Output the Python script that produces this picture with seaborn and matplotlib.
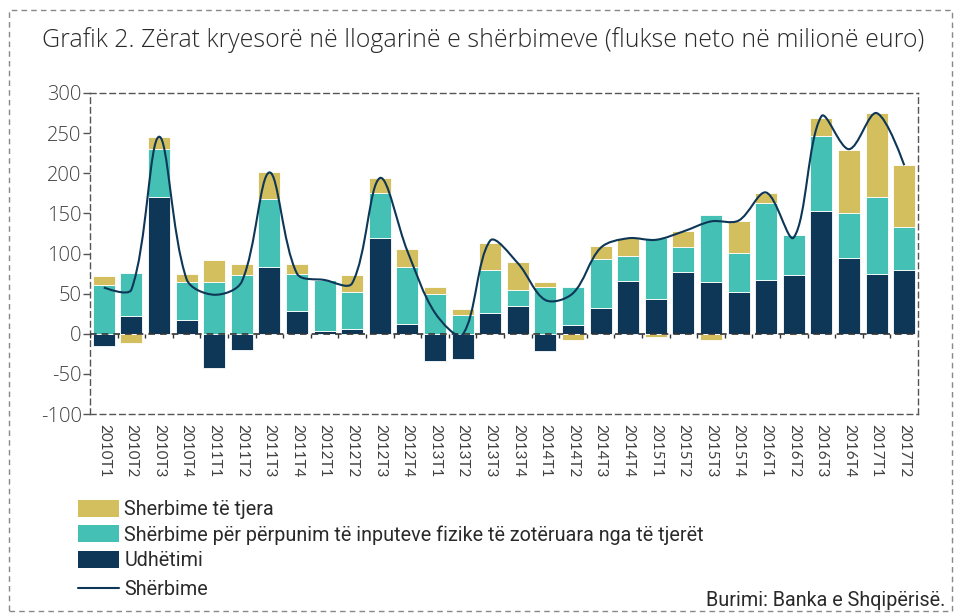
import numpy as np
import pandas as pd
import matplotlib
matplotlib.use("Agg")
import matplotlib.pyplot as plt
import seaborn as sns
from matplotlib.path import Path
from matplotlib.patches import PathPatch, Patch, Rectangle
from matplotlib.lines import Line2D

# ---------------- data ----------------
quarters = ["2010T1", "2010T2", "2010T3", "2010T4", "2011T1", "2011T2", "2011T3", "2011T4",
            "2012T1", "2012T2", "2012T3", "2012T4", "2013T1", "2013T2", "2013T3", "2013T4",
            "2014T1", "2014T2", "2014T3", "2014T4", "2015T1", "2015T2", "2015T3", "2015T4",
            "2016T1", "2016T2", "2016T3", "2016T4", "2017T1", "2017T2"]
udhetimi = [-15, 21.6, 170.7, 17, -43, -20, 82.7, 27.8, 3.7, 6, 119.6, 11.6, -34.5, -31.6, 25.7,
            34, -21.6, 10.4, 31.6, 65.6, 43.6, 76.4, 64, 51.5, 66.5, 72.7, 152.9, 95, 74.8, 79.8]
perpunim = [61, 54.4, 59, 48, 65, 73.5, 85.1, 46.6, 63.3, 45.5, 55.3, 71.4, 50, 22.9, 54,
            21, 58.6, 47.6, 61.9, 31.4, 75.2, 31.2, 84, 49, 96.5, 50.7, 93, 55, 95.5, 52.7]
te_tjera = [11, -11, 15.8, 9, 27, 13.5, 33.2, 12.6, 0.5, 21.5, 19.1, 23, 8.6, 8.1, 32.9,
            34, 6.2, -7.5, 16.2, 21.8, -4, 19.9, -8, 40.3, 12.7, -2, 22.8, 79.3, 105.1, 77.5]
sherbime = [57.7, 55, 245.5, 68, 48.6, 65, 201, 75, 67, 63, 194, 103, 26, -1, 116,
            88, 42, 50.5, 107, 119, 117, 127.5, 140, 141, 176, 120, 271, 230, 275, 210]

labels = ["Sherbime të tjera",
          "Shërbime për përpunim të inputeve fizike të zotëruara nga të tjerët",
          "Udhëtimi",
          "Shërbime"]
title = "Grafik 2. Zërat kryesorë në llogarinë e shërbimeve (flukse neto në milionë euro)"
source = "Burimi: Banka e Shqipërisë."

C_NAVY = "#0d3657"
C_TEAL = "#45c0b5"
C_YELLOW = "#d4bf5e"

TITLE_FONT = ["Open Sans", "DejaVu Sans"]
NARROW_FONT = ["Roboto", "DejaVu Sans"]

# ---------------- style ----------------
sns.set_theme(style="white")
plt.rcParams["font.family"] = ["Lato", "DejaVu Sans"]
plt.rcParams["axes.unicode_minus"] = False

W, H = 957, 615
fig = plt.figure(figsize=(W / 100, H / 100), dpi=100)
ax = fig.add_axes([90 / W, 1 - 414 / H, (918 - 90) / W, (414 - 93) / H])

df = pd.DataFrame({"q": quarters, "udh": udhetimi, "per": perpunim, "tj": te_tjera})
n = len(df)
pos_base = np.zeros(n)
neg_base = np.zeros(n)
for col, color in [("udh", C_NAVY), ("per", C_TEAL), ("tj", C_YELLOW)]:
    v = df[col].to_numpy(float)
    bottom = np.where(v >= 0, pos_base, neg_base)
    sns.barplot(x=df["q"], y=v, bottom=bottom, color=color, saturation=1, width=0.8,
                errorbar=None, edgecolor="white", linewidth=0.6, ax=ax)
    pos_base += np.clip(v, 0, None)
    neg_base += np.clip(v, None, 0)

ax.set_xlim(-0.5, n - 0.5)
ax.set_ylim(-100, 300)

# smoothed total line (Excel-like smoothing, distances measured on screen)
sx = (918 - 90) / n          # px per category
sy = (414 - 93) / 400.0      # px per unit
P = np.column_stack([np.arange(n, dtype=float), np.asarray(sherbime, float)])
S = P * np.array([sx, sy])
t = 1.0 / 3.0
cin = [P[0]] * n
cout = [P[0]] * n
for i in range(n):
    if i == 0 or i == n - 1:
        cin[i] = P[i]
        cout[i] = P[i]
        continue
    d0 = np.linalg.norm(S[i] - S[i - 1])
    d1 = np.linalg.norm(S[i + 1] - S[i])
    tan = P[i + 1] - P[i - 1]
    cin[i] = P[i] - t * d0 / (d0 + d1) * tan
    cout[i] = P[i] + t * d1 / (d0 + d1) * tan
verts = [P[0]]
codes = [Path.MOVETO]
for i in range(n - 1):
    verts += [cout[i], cin[i + 1], P[i + 1]]
    codes += [Path.CURVE4] * 3
ax.add_patch(PathPatch(Path(verts, codes), fill=False, edgecolor=C_NAVY, lw=1.5, zorder=5))

# axes styling
ax.set_yticks(np.arange(-100, 301, 50))
ax.set_xlabel("")
ax.set_ylabel("")
for s in ax.spines.values():
    s.set_visible(True)
    s.set_linestyle((0, (4, 3)))
    s.set_color("#555555")
    s.set_linewidth(1.0)
ax.axhline(0, color="#333333", lw=1.2, ls=(0, (4, 3)), zorder=4)
ax.vlines(np.arange(-0.5, n), -5, 0, color="#333333", lw=1.0, zorder=4)
ax.tick_params(axis="y", left=True, length=5, width=1, color="#555555",
               labelsize=14.5, labelcolor="#404040", pad=1)
ax.tick_params(axis="x", bottom=False, length=0, labelsize=11, labelcolor="#404040", pad=7)
plt.setp(ax.get_xticklabels(), rotation=-90, ha="center", va="top")
plt.setp(ax.get_yticklabels(), family=TITLE_FONT, weight="light")

# title
fig.text(42 / W, 1 - 47 / H, title, fontsize=17.9, color="#2a2a2a",
         family=TITLE_FONT, weight="light", va="baseline", ha="left")

# legend (bars block, then the line entry slightly lower)
bar_handles = [Patch(facecolor=C_YELLOW, edgecolor="none"),
               Patch(facecolor=C_TEAL, edgecolor="none"),
               Patch(facecolor=C_NAVY, edgecolor="none")]
leg_kw = dict(frameon=False, prop={"family": NARROW_FONT, "size": 14.2},
              handlelength=2.1, handleheight=0.95, handletextpad=0.25, labelspacing=0.3,
              borderaxespad=0, borderpad=0, labelcolor="#2a2a2a")
leg1 = fig.legend(bar_handles, labels[:3], loc="upper left",
                  bbox_to_anchor=(78 / W, 1 - 500 / H), **leg_kw)
leg2 = fig.legend([Line2D([], [], color=C_NAVY, lw=1.5)], labels[3:], loc="upper left",
                  bbox_to_anchor=(78 / W, 1 - 580 / H), **leg_kw)

fig.text(945 / W, 1 - 606 / H, source, fontsize=14.2, color="#2a2a2a",
         family=NARROW_FONT, ha="right", va="baseline")

# outer dashed frame
fig.patches.append(Rectangle((9 / W, 1 - 611 / H), (952 - 9) / W, (611 - 10) / H,
                             transform=fig.transFigure, fill=False, edgecolor="#888888",
                             lw=1.0, ls=(0, (4, 3))))

fig.savefig("out.png", dpi=100)
